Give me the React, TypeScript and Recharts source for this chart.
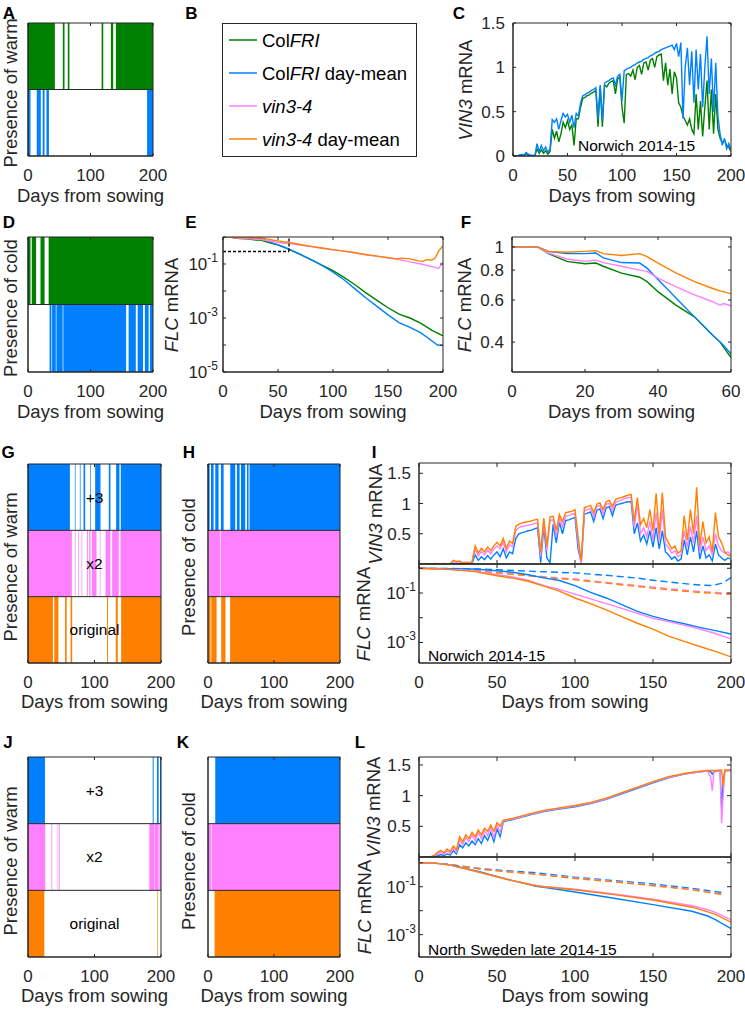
import React from "react";
import {
  ComposedChart,
  Line,
  XAxis,
  YAxis,
  ReferenceArea,
  ReferenceLine,
} from "recharts";

const GREEN = "#008000";
const BLUE = "#0080ff";
const PINK = "#ff80ff";
const ORANGE = "#ff8000";
const INK = "#262626";
const FONT = '"Liberation Sans", Arial, Helvetica, sans-serif';

// ---- presence of warm / cold, [start, end] in days from sowing ----
// A / D : Norwich 2014-15
const warmColFRI = [[0, 43], [55.7, 58.4], [63.7, 66.3], [117.8, 120.4], [132.6, 136.3], [140.6, 200]];
const warmColFRIMean = [[0, 4], [14, 20.5], [23.5, 26.5], [29.5, 33.5], [190.5, 200]];
const coldColFRI = [[0, 4], [6, 13], [20, 26.5], [33, 200]];
const coldColFRIMean = [[34.5, 37.5], [38.5, 44.5], [45.5, 55.5], [56.5, 157], [161, 172.5], [175.5, 184], [187, 193], [195, 200]];

// G / H : Norwich, +3 / x2 / original
const warmPlus3 = [[0, 63], [70.5, 71.5], [78, 79], [83.5, 86], [93.5, 94.5], [101, 109], [121.5, 124], [132.5, 137.5], [139.5, 200]];
const warmTimes2 = [[0, 66], [70.5, 71.5], [75.5, 76.5], [80.5, 81.5], [88.5, 90], [92, 94], [96, 103], [108, 109], [116.5, 124], [126.5, 136.5], [139, 200]];
const warmOrig = [[0, 37.5], [39.5, 45.7], [55.7, 58.2], [64, 66.5], [118.9, 120.4], [132, 135], [140, 200]];
const coldPlus3 = [[0, 2.5], [4.5, 8.5], [11, 16], [19.6, 23.7], [33.7, 41.3], [43.8, 47.9], [50, 56.4], [59, 61.5], [63, 200]];
const coldTimes2 = [[1, 18.3], [19.3, 200]];
const coldOrig = [[0.5, 4], [5, 13], [20, 26.5], [33.5, 200]];

// J / K : North Sweden late 2014-15
const nsWarmPlus3 = [[0, 25.5], [187.5, 189], [194, 196.5], [198.5, 200]];
const nsWarmTimes2 = [[0, 26], [35.3, 36.5], [44.5, 45.5], [47, 48], [182.5, 190], [190.5, 196.5], [197.5, 200]];
const nsWarmOrig = [[0, 24.5], [194.5, 195.5]];
const nsColdPlus3 = [[11, 200]];
const nsColdTimes2 = [[0, 4.5], [5.5, 200]];
const nsColdOrig = [[10, 200]];

// ---- C : VIN3, Norwich, every 2 days ----
const days2 = Array.from({ length: 101 }, (_, i) => i * 2);
const cColFRI = [
  0, 0, 0, 0.01, 0.01, 0, 0.03, 0.01, 0, 0,
  0, 0.08, 0.03, 0.07, 0.03, 0.06, 0.02, 0.05, 0.3, 0.2,
  0.28, 0.16, 0.25, 0.38, 0.32, 0.4, 0.3, 0.35, 0.12, 0.42,
  0.42, 0.55, 0.65, 0.66, 0.68, 0.69, 0.71, 0.72, 0.74, 0.33,
  0.78, 0.33, 0.8, 0.78, 0.82, 0.84, 0.85, 0.7, 0.87, 0.89,
  0.55, 0.37, 0.92, 0.93, 0.9, 0.97, 0.86, 1.0, 1.02, 0.92,
  1.05, 1.06, 0.97, 1.08, 1.1, 1.0, 1.12, 1.14, 1.15, 0.85,
  1.05, 0.8, 0.98, 0.7, 0.95, 0.88, 0.6, 0.55, 0.45, 0.4,
  0.35, 0.42, 0.3, 0.25, 0.7, 0.3, 0.62, 0.22, 0.55, 0.85,
  0.3, 0.75, 0.25, 0.7, 0.3, 0.2, 0.15, 0.18, 0.12, 0.1,
  0.05,
];
const cColFRIMean = [
  0, 0, 0, 0.01, 0.02, 0.01, 0.04, 0.02, 0.01, 0.01,
  0, 0.14, 0.05, 0.12, 0.06, 0.1, 0.04, 0.08, 0.41, 0.38,
  0.42, 0.3, 0.4, 0.48, 0.44, 0.47, 0.38, 0.46, 0.32, 0.48,
  0.45, 0.6, 0.68, 0.69, 0.71, 0.72, 0.74, 0.75, 0.77, 0.42,
  0.8, 0.4, 0.82, 0.84, 0.85, 0.87, 0.88, 0.8, 0.9, 0.92,
  0.62, 0.96, 0.98, 0.99, 1.0, 1.02, 1.03, 1.05, 1.06, 1.07,
  1.09, 1.1, 1.11, 1.13, 1.14, 1.16, 1.17, 1.18, 1.2, 1.21,
  1.22, 1.23, 1.24, 1.25, 1.2, 1.27, 1.12, 1.28, 0.42, 1.0,
  1.22, 0.8, 1.18, 0.6, 1.2, 0.75, 1.15, 0.55, 1.0, 1.35,
  0.7, 1.1, 0.5, 1.05, 0.45, 0.25, 0.12, 0.2, 0.08, 0.14,
  0.06,
];

// ---- E : FLC, Norwich (log) ----
const eGreenX = [0, 7, 10, 15, 20, 25, 30, 35, 40, 45, 50, 55, 60, 70, 80, 90, 100, 110, 120, 130, 140, 150, 160, 170, 180, 190, 200];
const eGreen = [1, 1, 0.937, 0.87, 0.85, 0.83, 0.777, 0.747, 0.65, 0.57, 0.51, 0.427, 0.345, 0.226, 0.146, 0.09, 0.057, 0.032, 0.017, 0.0085, 0.0045, 0.0024, 0.0014, 0.001, 0.00063, 0.00035, 0.00022];
const eBlueX = [0, 7, 10, 15, 20, 25, 30, 35, 37, 40, 45, 50, 55, 60, 70, 80, 90, 100, 110, 120, 130, 140, 150, 160, 170, 180, 190, 195, 200];
const eBlue = [1, 1, 0.958, 0.937, 0.937, 0.9, 0.86, 0.856, 0.815, 0.73, 0.61, 0.51, 0.427, 0.357, 0.23, 0.145, 0.088, 0.05, 0.026, 0.012, 0.0055, 0.0027, 0.0013, 0.00068, 0.00045, 0.00028, 0.00014, 0.0001, 0.000095];
const ePinkX = [0, 7, 10, 15, 20, 25, 30, 35, 40, 45, 50, 55, 60, 70, 80, 90, 100, 110, 120, 130, 140, 150, 160, 170, 180, 190, 196, 200];
const ePink = [1, 1, 0.943, 0.89, 0.87, 0.86, 0.83, 0.8, 0.74, 0.68, 0.63, 0.59, 0.567, 0.5, 0.44, 0.385, 0.335, 0.3, 0.26, 0.22, 0.195, 0.17, 0.145, 0.12, 0.1, 0.08, 0.068, 0.12];
const eOrangeX = [0, 7, 10, 15, 20, 25, 30, 35, 40, 45, 50, 55, 60, 70, 80, 90, 100, 110, 120, 130, 140, 150, 158, 162, 170, 178, 182, 185, 190, 193, 196, 200];
const eOrange = [1, 1, 0.958, 0.95, 0.958, 0.937, 0.92, 0.937, 0.856, 0.777, 0.716, 0.67, 0.636, 0.53, 0.45, 0.39, 0.34, 0.3, 0.26, 0.22, 0.195, 0.17, 0.155, 0.165, 0.155, 0.13, 0.125, 0.145, 0.14, 0.17, 0.3, 0.48];
// zoom window shown in F (dashed in E)
const zoomDays = [0, 60];
const zoomFloor = 0.29;

// ---- F : FLC first 60 days (log) ----
const fX = [0, 7, 10, 15, 20, 23, 25, 30, 35, 37, 40, 45, 50, 55, 57, 58, 60];
const fGreen = [1, 1, 0.937, 0.87, 0.85, 0.856, 0.83, 0.777, 0.747, 0.716, 0.65, 0.57, 0.51, 0.427, 0.4, 0.38, 0.345];
const fBlue = [1, 1, 0.958, 0.937, 0.937, 0.943, 0.9, 0.86, 0.856, 0.815, 0.73, 0.61, 0.51, 0.427, 0.4, 0.387, 0.357];
const fPink = [1, 1, 0.943, 0.89, 0.87, 0.88, 0.86, 0.83, 0.8, 0.79, 0.74, 0.68, 0.63, 0.59, 0.57, 0.58, 0.567];
const fOrange = [1, 1, 0.958, 0.95, 0.958, 0.965, 0.937, 0.92, 0.937, 0.91, 0.856, 0.777, 0.716, 0.67, 0.655, 0.65, 0.636];

// ---- I : Norwich, VIN3 every 2 days ----
const iVinPlus3 = [
  0, 0, 0, 0, 0, 0, 0, 0, 0, 0,
  0, 0.01, 0, 0.01, 0, 0, 0, 0.01, 0.15, 0.06,
  0.12, 0.07, 0.14, 0.08, 0.15, 0.2, 0.12, 0.25, 0.1, 0.2,
  0.17, 0.42, 0.5, 0.52, 0.53, 0.55, 0.56, 0.58, 0.6, 0.02,
  0.62, 0.1, 0.02, 0.66, 0.35, 0.69, 0.5, 0.72, 0.73, 0.75,
  0.77, 0.25, 0.02, 0.82, 0.84, 0.86, 0.7, 0.89, 0.91, 0.75,
  0.93, 0.95, 0.8, 0.97, 0.99, 1.0, 1.02, 1.03, 1.03, 0.5,
  0.68, 0.38, 0.48, 0.33, 0.55, 0.28, 0.6, 0.25, 0.55, 0.2,
  0.15, 0.08, 0.12, 0.05, 0.08, 0.4, 0.15, 0.45, 0.2, 0.55,
  0.08, 0.3, 0.1, 0.15, 0.05, 0.33, 0.15, 0.1, 0.06, 0.1,
  0.08,
];
const iVinTimes2 = [
  0, 0, 0, 0, 0, 0, 0, 0, 0, 0,
  0, 0.04, 0.03, 0.04, 0.01, 0.02, 0.01, 0.03, 0.25, 0.13,
  0.21, 0.15, 0.23, 0.17, 0.25, 0.3, 0.25, 0.36, 0.2, 0.32,
  0.28, 0.55, 0.6, 0.62, 0.63, 0.64, 0.65, 0.67, 0.68, 0.12,
  0.7, 0.22, 0.72, 0.73, 0.45, 0.76, 0.62, 0.79, 0.8, 0.82,
  0.84, 0.35, 0, 0.88, 0.9, 0.92, 0.78, 0.95, 0.97, 0.83,
  0.99, 1.0, 0.88, 1.02, 1.04, 1.06, 1.08, 1.1, 1.1, 0.6,
  1.0, 0.5, 0.6, 0.45, 0.7, 0.4, 0.85, 0.38, 0.9, 0.33,
  0.27, 0.18, 0.22, 0.12, 0.16, 0.55, 0.28, 0.62, 0.35, 0.8,
  0.2, 0.45, 0.22, 0.3, 0.15, 0.5, 0.3, 0.22, 0.18, 0.2,
  0.15,
];
const iVinOrig = [
  0, 0, 0, 0, 0, 0.01, 0, 0, 0.01, 0,
  0, 0.06, 0.04, 0.05, 0.02, 0.03, 0.02, 0.04, 0.3, 0.18,
  0.26, 0.2, 0.28, 0.22, 0.3, 0.36, 0.3, 0.42, 0.26, 0.38,
  0.34, 0.62, 0.66, 0.68, 0.69, 0.7, 0.71, 0.73, 0.74, 0.2,
  0.76, 0.3, 0.78, 0.79, 0.55, 0.82, 0.7, 0.85, 0.86, 0.87,
  0.9, 0.45, 0.05, 0.93, 0.95, 0.97, 0.85, 0.99, 1.01, 0.9,
  1.03, 1.05, 0.95, 1.07, 1.09, 1.1, 1.12, 1.14, 1.15, 0.7,
  1.1, 0.65, 0.75, 0.6, 0.9, 0.55, 1.17, 0.5, 1.18, 0.45,
  0.35, 0.25, 0.3, 0.18, 0.22, 0.8, 0.4, 0.9, 0.5, 1.27,
  0.3, 0.7, 0.35, 0.45, 0.2, 0.85, 0.45, 0.35, 0.2, 0.15,
  0.12,
];
// I : FLC (solid = vin3-4 model, dashed = day-mean)
const iFlcX = [0, 20, 35, 50, 60, 70, 80, 90, 100, 110, 120, 130, 140, 150, 160, 170, 180, 190, 200];
const iFlcPlus3 = [1.0, 0.97, 0.94, 0.8, 0.69, 0.55, 0.41, 0.32, 0.2, 0.106, 0.063, 0.034, 0.018, 0.0113, 0.0078, 0.0057, 0.0041, 0.003, 0.0022];
const iFlcTimes2 = [1.0, 0.9, 0.78, 0.55, 0.45, 0.33, 0.2, 0.14, 0.09, 0.058, 0.037, 0.024, 0.015, 0.0095, 0.007, 0.005, 0.0035, 0.0023, 0.0014];
const iFlcOrig = [1.0, 0.88, 0.75, 0.5, 0.4, 0.3, 0.19, 0.12, 0.063, 0.037, 0.021, 0.011, 0.006, 0.0035, 0.0018, 0.0011, 0.00069, 0.00044, 0.00026];
const iMeanPlus3X = [0, 20, 40, 50, 60, 80, 100, 120, 140, 150, 160, 170, 180, 188, 195, 200];
const iMeanPlus3 = [1.0, 0.98, 0.93, 0.88, 0.82, 0.72, 0.65, 0.52, 0.4, 0.33, 0.28, 0.24, 0.21, 0.2, 0.26, 0.42];
const iMeanX = [0, 20, 40, 60, 80, 100, 120, 140, 160, 180, 200];
const iMeanTimes2 = [1.0, 0.93, 0.78, 0.6, 0.46, 0.37, 0.27, 0.2, 0.15, 0.115, 0.095];
const iMeanOrig = [1.0, 0.91, 0.75, 0.57, 0.43, 0.34, 0.25, 0.185, 0.135, 0.105, 0.088];

// ---- L : North Sweden late, VIN3 ----
const lDays = [
  0, 2, 4, 6, 8, 10, 12, 14, 16, 18, 20, 22, 24, 26, 28, 30, 32, 34, 36, 38, 40,
  42, 44, 46, 48, 50, 52, 54, 56, 58, 60, 66, 72, 80, 90, 100, 110, 120, 130, 140,
  150, 160, 170, 180, 185, 187, 188, 189, 191, 193, 194, 195, 196, 198, 200,
];
const lVinPlus3 = [
  0, 0, 0, 0, 0, 0, 0.02, 0.04, 0.02, 0.05, 0.03, 0.1, 0.05, 0.2, 0.15, 0.23, 0.18, 0.26, 0.2, 0.3, 0.22,
  0.35, 0.27, 0.4, 0.25, 0.46, 0.33, 0.57, 0.59, 0.6, 0.61, 0.65, 0.69, 0.74, 0.78, 0.82, 0.87, 0.94, 1.03, 1.12,
  1.21, 1.29, 1.35, 1.39, 1.4, 1.39, 1.35, 1.39, 1.4, 1.4, 0.82, 1.2, 1.4, 1.41, 1.41,
];
const lVinTimes2 = [
  0, 0, 0, 0, 0, 0.02, 0.05, 0.08, 0.04, 0.1, 0.06, 0.14, 0.08, 0.28, 0.2, 0.32, 0.25, 0.36, 0.26, 0.4, 0.3,
  0.43, 0.35, 0.48, 0.32, 0.52, 0.4, 0.58, 0.6, 0.61, 0.62, 0.66, 0.7, 0.75, 0.79, 0.83, 0.88, 0.95, 1.04, 1.13,
  1.22, 1.3, 1.35, 1.39, 1.4, 1.3, 1.08, 1.38, 1.4, 1.4, 0.55, 1.0, 1.4, 1.41, 1.41,
];
const lVinOrig = [
  0, 0, 0, 0, 0.01, 0.03, 0.08, 0.11, 0.07, 0.13, 0.09, 0.18, 0.12, 0.33, 0.25, 0.36, 0.3, 0.4, 0.33, 0.44, 0.36,
  0.47, 0.42, 0.52, 0.42, 0.56, 0.5, 0.6, 0.61, 0.62, 0.63, 0.67, 0.71, 0.76, 0.8, 0.84, 0.89, 0.96, 1.05, 1.14,
  1.23, 1.31, 1.36, 1.4, 1.41, 1.41, 1.41, 1.41, 1.41, 1.42, 1.42, 1.15, 1.42, 1.42, 1.42,
];
// L : FLC
const lFlcX = [0, 10, 20, 25, 30, 40, 50, 60, 70, 75, 80, 100, 125, 150, 175, 185, 190, 200];
const lFlcPlus3 = [1.0, 0.97, 0.82, 0.68, 0.58, 0.4, 0.27, 0.18, 0.125, 0.105, 0.095, 0.06, 0.033, 0.018, 0.0095, 0.006, 0.0042, 0.0018];
const lFlcTimes2 = [1.0, 0.97, 0.8, 0.66, 0.56, 0.38, 0.26, 0.18, 0.13, 0.112, 0.102, 0.078, 0.05, 0.03, 0.016, 0.011, 0.0085, 0.0042];
const lFlcOrig = [1.0, 0.97, 0.8, 0.66, 0.56, 0.38, 0.26, 0.18, 0.13, 0.11, 0.1, 0.075, 0.047, 0.028, 0.014, 0.009, 0.007, 0.0033];
const lMeanX = [0, 10, 20, 39, 50, 75, 100, 125, 150, 175, 196];
const lMeanPlus3 = [1.0, 0.97, 0.85, 0.58, 0.5, 0.38, 0.25, 0.18, 0.13, 0.085, 0.055];
const lMeanTimes2 = [1.0, 0.96, 0.83, 0.56, 0.47, 0.34, 0.23, 0.165, 0.115, 0.078, 0.047];
const lMeanOrig = [1.0, 0.96, 0.82, 0.55, 0.46, 0.33, 0.22, 0.16, 0.11, 0.075, 0.045];

const dayTicks = [0, 50, 100, 150, 200];
const decades = [1e-5, 1e-4, 1e-3, 1e-2, 1e-1, 1];

// ---- layout ----
type Box = { x: number; y: number; w: number; h: number };
const BOX: Record<string, Box> = {
  A: { x: 28, y: 23, w: 125, h: 133 },
  C: { x: 513, y: 23, w: 218, h: 133 },
  D: { x: 28, y: 237, w: 125, h: 135 },
  E: { x: 223, y: 237, w: 220, h: 135 },
  F: { x: 512, y: 237, w: 219, h: 135 },
  G: { x: 28, y: 464, w: 133, h: 199 },
  H: { x: 208, y: 464, w: 132, h: 199 },
  IU: { x: 419, y: 463, w: 312, h: 101 },
  IL: { x: 419, y: 564, w: 312, h: 99 },
  J: { x: 28, y: 757, w: 133, h: 200 },
  K: { x: 208, y: 757, w: 132, h: 200 },
  LU: { x: 419, y: 757, w: 312, h: 100 },
  LL: { x: 419, y: 857, w: 312, h: 100 },
};

const PL = 60, PR = 25, PT = 12, PB = 40, XH = 30, YW = 50;

type AxOpt = {
  x: number[];
  xt: number[];
  xLab?: boolean;
  y: number[];
  yt?: number[];
  log?: boolean;
  yTick?: any;
  yGap?: number;
  ts?: number;
};

// short inward marks at both ends of a full-span reference line (matlab box ticks)
const edgeTicks = (ts: number) => (p: any) => {
  const { x1, y1, x2, y2 } = p;
  const len = Math.hypot(x2 - x1, y2 - y1) || 1;
  const dx = ((x2 - x1) / len) * ts;
  const dy = ((y2 - y1) / len) * ts;
  return (
    <g>
      <line x1={x1} y1={y1} x2={x1 + dx} y2={y1 + dy} stroke={INK} strokeWidth={1} />
      <line x1={x2} y1={y2} x2={x2 - dx} y2={y2 - dy} stroke={INK} strokeWidth={1} />
    </g>
  );
};

function axes(o: AxOpt) {
  const line = { stroke: INK, strokeWidth: 1 };
  const font = { fontSize: 17, fill: INK, fontFamily: FONT };
  const hasY = !!o.yt;
  return [
    <XAxis key="xb" dataKey="x" type="number" domain={o.x} ticks={o.xt} interval={0}
      allowDataOverflow height={XH} axisLine={line} tickLine={false} tickSize={0}
      tickMargin={13} tick={o.xLab === false ? false : font} />,
    <YAxis key="yl" type="number" scale={o.log ? "log" : "linear"} domain={o.y} ticks={o.yt}
      interval={0} allowDataOverflow width={YW} axisLine={line} tickLine={false} tickSize={0}
      tickMargin={o.yGap ?? 8} tick={hasY ? o.yTick ?? font : false} />,
  ];
}

function box(o: AxOpt) {
  const ts = o.ts ?? 3;
  const mark = edgeTicks(ts);
  return [
    ...o.xt.map((t) => <ReferenceLine key={`tx${t}`} x={t} shape={mark} />),
    ...(o.yt ?? []).map((t) => <ReferenceLine key={`ty${t}`} y={t} shape={mark} />),
    <ReferenceLine key="top" y={o.y[1]} stroke={INK} strokeWidth={1} />,
    <ReferenceLine key="right" x={o.x[1]} stroke={INK} strokeWidth={1} />,
    <ReferenceLine key="left" x={o.x[0]} stroke={INK} strokeWidth={1} />,
    <ReferenceLine key="bottom" y={o.y[0]} stroke={INK} strokeWidth={1} />,
  ];
}

function Frame({ box: b, opt, children }: { box: Box; opt: AxOpt; children?: React.ReactNode }) {
  return (
    <div style={{ position: "absolute", left: b.x - PL, top: b.y - PT }}>
      <ComposedChart
        width={b.w + PL + PR}
        height={b.h + PT + PB}
        margin={{ top: PT, right: PR, bottom: PB - XH, left: PL - YW }}
      >
        {axes(opt)}
        {children}
        {box(opt)}
      </ComposedChart>
    </div>
  );
}

function PowTick(props: any) {
  const { x, y, payload, show } = props;
  const e = Math.round(Math.log10(payload.value));
  if (!show.includes(e)) return <g />;
  return (
    <text x={x} y={y + 6} textAnchor="end" fontFamily={FONT} fontSize={17} fill={INK}>
      10<tspan dy={-8} fontSize={12}>{e}</tspan>
    </text>
  );
}

function trace(key: string, xs: number[], ys: number[], color: string, dash?: string) {
  return (
    <Line key={key} data={xs.map((x, i) => ({ x, y: ys[i] }))} dataKey="y" type="linear"
      stroke={color} strokeWidth={1.4} strokeDasharray={dash} dot={false} activeDot={false}
      isAnimationActive={false} />
  );
}

type Row = { color: string; spans: number[][] };

function Presence({ box: b, rows }: { box: Box; rows: Row[] }) {
  const n = rows.length;
  return (
    <Frame box={b} opt={{ x: [0, 200], xt: [0, 100, 200], y: [0, n] }}>
      {rows.map((r, i) =>
        r.spans.map(([a, c], j) => (
          <ReferenceArea key={`a${i}-${j}`} x1={a} x2={c} y1={n - 1 - i} y2={n - i}
            fill={r.color} fillOpacity={1} stroke="none" />
        ))
      )}
      {rows.slice(1).map((_, i) => (
        <ReferenceLine key={`d${i}`} y={n - 1 - i} stroke={INK} strokeWidth={1} />
      ))}
    </Frame>
  );
}

function T({ x, y, s = 18.5, b, r, left, c = INK, children }: any) {
  return (
    <div
      style={{
        position: "absolute",
        left: x,
        top: y,
        fontSize: s,
        fontWeight: b ? "bold" : "normal",
        color: c,
        lineHeight: 1,
        whiteSpace: "nowrap",
        transform: `translate(${left ? "0" : "-50%"}, -50%)${r ? " rotate(-90deg)" : ""}`,
      }}
    >
      {children}
    </div>
  );
}

const legendColors = [GREEN, BLUE, PINK, ORANGE];
const legendLabels = [
  ["Col", "FRI", ""],
  ["Col", "FRI", " day-mean"],
  ["", "vin3-4", ""],
  ["", "vin3-4", " day-mean"],
];

function LegendB() {
  return (
    <svg style={{ position: "absolute", left: 222, top: 23 }} width={195} height={134}>
      <rect x={0.5} y={0.5} width={194} height={133} fill="#fff" stroke={INK} />
      {legendColors.map((c, i) => (
        <g key={i}>
          <line x1={7} x2={35} y1={17 + 33 * i} y2={17 + 33 * i} stroke={c} strokeWidth={1.5} />
          <text x={40} y={17 + 33 * i + 6.5} fontSize={18.5} fontFamily={FONT} fill="#000"
            style={{ whiteSpace: "pre" }}>
            {legendLabels[i][0]}
            <tspan fontStyle="italic">{legendLabels[i][1]}</tspan>
            {legendLabels[i][2]}
          </text>
        </g>
      ))}
    </svg>
  );
}

const pow13 = (p: any) => <PowTick {...p} show={[-1, -3]} />;
const pow135 = (p: any) => <PowTick {...p} show={[-1, -3, -5]} />;

export default function App() {
  const days = "Days from sowing";
  return (
    <div style={{ position: "absolute", left: 0, top: 0, width: 745, height: 1010, background: "#fff", fontFamily: FONT, overflow: "hidden" }}>
      <Presence box={BOX.A} rows={[{ color: GREEN, spans: warmColFRI }, { color: BLUE, spans: warmColFRIMean }]} />
      <Presence box={BOX.D} rows={[{ color: GREEN, spans: coldColFRI }, { color: BLUE, spans: coldColFRIMean }]} />
      <Presence box={BOX.G} rows={[{ color: BLUE, spans: warmPlus3 }, { color: PINK, spans: warmTimes2 }, { color: ORANGE, spans: warmOrig }]} />
      <Presence box={BOX.H} rows={[{ color: BLUE, spans: coldPlus3 }, { color: PINK, spans: coldTimes2 }, { color: ORANGE, spans: coldOrig }]} />
      <Presence box={BOX.J} rows={[{ color: BLUE, spans: nsWarmPlus3 }, { color: PINK, spans: nsWarmTimes2 }, { color: ORANGE, spans: nsWarmOrig }]} />
      <Presence box={BOX.K} rows={[{ color: BLUE, spans: nsColdPlus3 }, { color: PINK, spans: nsColdTimes2 }, { color: ORANGE, spans: nsColdOrig }]} />

      <LegendB />

      <Frame box={BOX.C} opt={{ x: [0, 200], xt: dayTicks, y: [0, 1.5], yt: [0, 0.5, 1, 1.5] }}>
        {trace("g", days2, cColFRI, GREEN)}
        {trace("b", days2, cColFRIMean, BLUE)}
      </Frame>

      <Frame box={BOX.E} opt={{ x: [0, 200], xt: dayTicks, y: [1e-5, 1], yt: decades, log: true, yTick: pow135, yGap: 5 }}>
        {trace("g", eGreenX, eGreen, GREEN)}
        {trace("b", eBlueX, eBlue, BLUE)}
        {trace("p", ePinkX, ePink, PINK)}
        {trace("o", eOrangeX, eOrange, ORANGE)}
        <ReferenceLine segment={[{ x: zoomDays[0], y: zoomFloor }, { x: zoomDays[1], y: zoomFloor }]} stroke="#000" strokeWidth={1.3} strokeDasharray="3 2" />
        <ReferenceLine segment={[{ x: zoomDays[1], y: zoomFloor }, { x: zoomDays[1], y: 1 }]} stroke="#000" strokeWidth={1.3} strokeDasharray="3 2" />
      </Frame>

      <Frame box={BOX.F} opt={{ x: [0, 60], xt: [0, 20, 40, 60], y: [0.3, 1.1], yt: [0.4, 0.6, 0.8, 1], log: true }}>
        {trace("g", fX, fGreen, GREEN)}
        {trace("b", fX, fBlue, BLUE)}
        {trace("p", fX, fPink, PINK)}
        {trace("o", fX, fOrange, ORANGE)}
      </Frame>

      <Frame box={BOX.IU} opt={{ x: [0, 200], xt: dayTicks, xLab: false, y: [0, 1.67], yt: [0.5, 1, 1.5], ts: 4 }}>
        {trace("b", days2, iVinPlus3, BLUE)}
        {trace("p", days2, iVinTimes2, PINK)}
        {trace("o", days2, iVinOrig, ORANGE)}
      </Frame>
      <Frame box={BOX.IL} opt={{ x: [0, 200], xt: dayTicks, y: [1.48e-4, 1.49], yt: decades.slice(2), log: true, yTick: pow13, yGap: 3, ts: 4 }}>
        {trace("bd", iMeanPlus3X, iMeanPlus3, BLUE, "7 4")}
        {trace("pd", iMeanX, iMeanTimes2, PINK, "7 4")}
        {trace("od", iMeanX, iMeanOrig, ORANGE, "7 4")}
        {trace("b", iFlcX, iFlcPlus3, BLUE)}
        {trace("p", iFlcX, iFlcTimes2, PINK)}
        {trace("o", iFlcX, iFlcOrig, ORANGE)}
      </Frame>

      <Frame box={BOX.LU} opt={{ x: [0, 200], xt: dayTicks, xLab: false, y: [0, 1.63], yt: [0.5, 1, 1.5], ts: 4 }}>
        {trace("b", lDays, lVinPlus3, BLUE)}
        {trace("p", lDays, lVinTimes2, PINK)}
        {trace("o", lDays, lVinOrig, ORANGE)}
      </Frame>
      <Frame box={BOX.LL} opt={{ x: [0, 200], xt: dayTicks, y: [1.17e-4, 1.74], yt: decades.slice(2), log: true, yTick: pow13, yGap: 3, ts: 4 }}>
        {trace("bd", lMeanX, lMeanPlus3, BLUE, "7 4")}
        {trace("pd", lMeanX, lMeanTimes2, PINK, "7 4")}
        {trace("od", lMeanX, lMeanOrig, ORANGE, "7 4")}
        {trace("b", lFlcX, lFlcPlus3, BLUE)}
        {trace("p", lFlcX, lFlcTimes2, PINK)}
        {trace("o", lFlcX, lFlcOrig, ORANGE)}
      </Frame>

      {/* panel letters */}
      <T x={9} y={12.5} s={17} b c="#000">A</T>
      <T x={191.5} y={12.5} s={17} b c="#000">B</T>
      <T x={459} y={12.5} s={17} b c="#000">C</T>
      <T x={9} y={222} s={17} b c="#000">D</T>
      <T x={191} y={222} s={17} b c="#000">E</T>
      <T x={466} y={222} s={17} b c="#000">F</T>
      <T x={8} y={452} s={17} b c="#000">G</T>
      <T x={189} y={452} s={17} b c="#000">H</T>
      <T x={374} y={452} s={17} b c="#000">I</T>
      <T x={8} y={741.5} s={17} b c="#000">J</T>
      <T x={183} y={741.5} s={17} b c="#000">K</T>
      <T x={360} y={741.5} s={17} b c="#000">L</T>

      {/* y titles */}
      <T x={10.5} y={93} r>Presence of warm</T>
      <T x={10.5} y={308} r>Presence of cold</T>
      <T x={10.5} y={567} r>Presence of warm</T>
      <T x={189} y={567} r>Presence of cold</T>
      <T x={10.5} y={861} r>Presence of warm</T>
      <T x={189} y={861} r>Presence of cold</T>
      <T x={466} y={89.5} r><i>VIN3</i> mRNA</T>
      <T x={172} y={304.5} r><i>FLC</i> mRNA</T>
      <T x={465} y={304.5} r><i>FLC</i> mRNA</T>
      <T x={376} y={513.5} r><i>VIN3</i> mRNA</T>
      <T x={364} y={613.5} r><i>FLC</i> mRNA</T>
      <T x={374} y={807} r><i>VIN3</i> mRNA</T>
      <T x={365} y={907} r><i>FLC</i> mRNA</T>

      {/* x titles */}
      <T x={90.5} y={196}>{days}</T>
      <T x={622} y={196}>{days}</T>
      <T x={90.5} y={412}>{days}</T>
      <T x={333} y={412}>{days}</T>
      <T x={621.5} y={412}>{days}</T>
      <T x={94.5} y={702}>{days}</T>
      <T x={274} y={702}>{days}</T>
      <T x={575} y={702}>{days}</T>
      <T x={94.5} y={996}>{days}</T>
      <T x={274} y={996}>{days}</T>
      <T x={575} y={996}>{days}</T>

      {/* annotations */}
      <T x={578} y={146} s={15.5} left c="#000">Norwich 2014-15</T>
      <T x={428} y={656} s={15.5} left c="#000">Norwich 2014-15</T>
      <T x={428} y={950} s={15.5} left c="#000">North Sweden late 2014-15</T>
      <T x={94.5} y={497.5} s={15.5} c="#000">+3</T>
      <T x={94.5} y={564} s={15.5} c="#000">x2</T>
      <T x={94.5} y={630} s={15.5} c="#000">original</T>
      <T x={94.5} y={790.5} s={15.5} c="#000">+3</T>
      <T x={94.5} y={857} s={15.5} c="#000">x2</T>
      <T x={94.5} y={924} s={15.5} c="#000">original</T>
    </div>
  );
}
